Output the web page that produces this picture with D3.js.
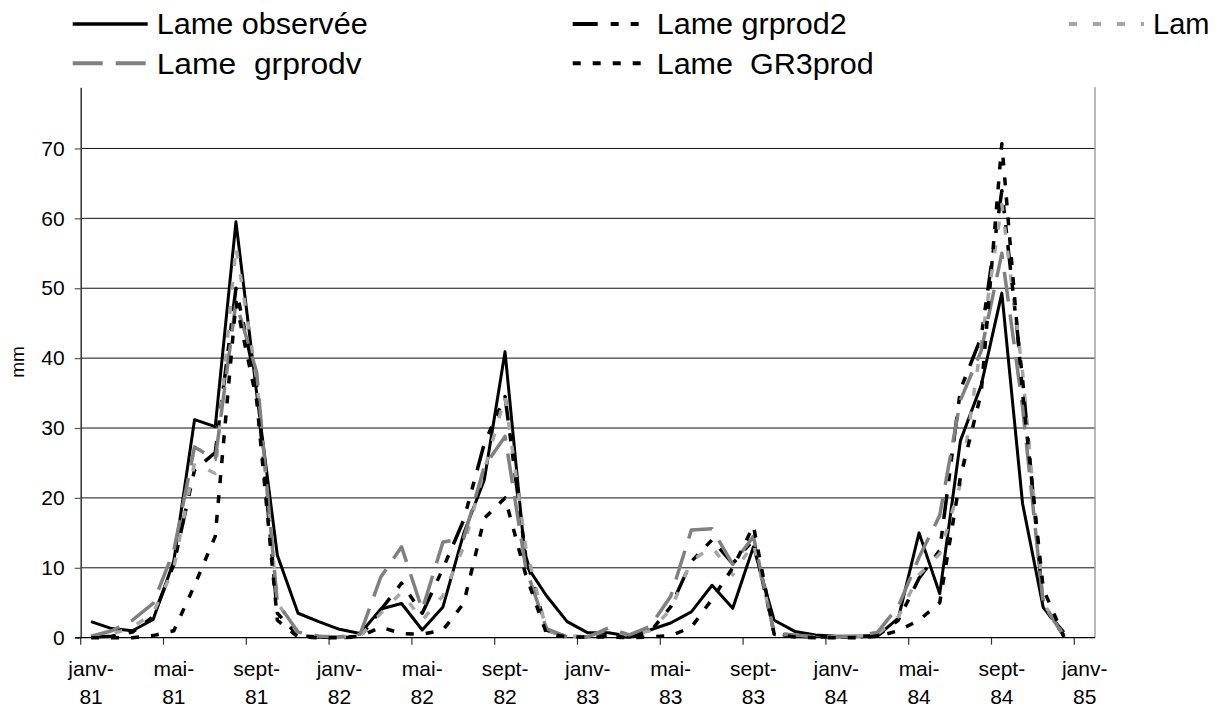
<!DOCTYPE html>
<html><head><meta charset="utf-8">
<script src="https://cdn.jsdelivr.net/npm/d3@7/dist/d3.min.js"></script>
<style>
html,body{margin:0;padding:0;background:#fff;overflow:hidden}
text{font-family:"Liberation Sans",Arial,sans-serif;fill:#000}
</style></head><body>
<svg id="c" width="1215" height="711"></svg>
<script>
// ---- data ----
const startMonth = new Date(1981, 0, 1);
const endMonth = new Date(1985, 1, 1);          // axis spans janv-81 .. janv-85 (49 months)
const monthNames = ["janv-","févr-","mars-","avr-","mai-","juin-","juil-","août-","sept-","oct-","nov-","déc-"];
const tickEvery = 4;
const yTicks = [0,10,20,30,40,50,60,70];
const yMax = 78.75;

const lameObservee = [2.3,1.3,1.0,2.6,11.0,31.2,30.2,59.5,35.0,11.8,3.5,2.3,
  1.2,0.6,4.1,4.9,1.1,4.4,14.9,22.6,40.9,10.5,6.0,2.3,
  0.7,0.7,0.2,1.1,2.1,3.7,7.5,4.2,13.0,2.5,0.9,0.4,
  0.2,0.2,0.3,2.8,15.0,6.3,28.2,36.1,49.3,19.2,4.3,0.8];
const lameGrprod2 = [0.1,0.2,0.8,3.0,10.5,24.0,26.5,50.0,36.0,3.5,0.3,0.1,
  0.0,0.1,4.0,7.8,3.5,9.9,16.8,27.8,34.5,11.6,1.1,0.1,
  0.1,0.3,0.1,0.8,4.4,10.9,14.0,10.6,14.0,0.6,0.2,0.1,
  0.1,0.1,0.3,2.5,8.5,12.5,35.5,43.0,64.0,37.0,4.5,0.3];
const lameGrprod3 = [0.1,0.5,1.5,3.5,10.0,25.0,23.5,56.0,37.0,5.0,0.6,0.2,
  0.1,0.2,3.5,6.5,2.5,6.0,13.0,24.0,34.5,13.0,1.0,0.2,
  0.2,1.2,0.3,1.0,4.0,11.0,13.0,9.0,13.5,0.8,0.3,0.1,
  0.1,0.2,0.5,3.0,9.0,12.0,22.0,42.0,62.0,38.0,5.0,0.3];
const lameGrprodv = [0.2,1.0,2.5,4.9,12.5,27.3,25.5,48.0,38.0,5.0,0.8,0.2,
  0.1,0.5,8.7,13.0,4.0,13.7,14.2,24.5,28.8,10.0,1.3,0.1,
  0.1,1.4,0.4,1.6,5.9,15.4,15.6,10.5,14.5,0.6,0.4,0.1,
  0.1,0.2,0.8,4.5,11.5,17.5,34.0,41.0,55.0,33.0,4.8,0.2];
const lameGR3prod = [0,0,0,0.3,1.0,7.5,14.5,48.0,34.0,2.5,0.1,0,
  0,0.2,1.5,0.6,0.5,1.1,4.9,17.1,20.0,9.0,0.6,0.1,
  0.1,0.1,0,0.1,0.3,1.5,5.5,10.0,16.0,0.5,0.1,0,
  0,0,0.2,1.0,2.5,5.0,23.0,35.0,70.7,35.0,7.0,0.1];

// the third legend entry is cut at the picture's edge in the reference: only "Lam" shows
const seriesNames = ["Lame observée","Lame grprod2","Lam","Lame  grprodv","Lame  GR3prod"];
const seriesValues = [lameObservee, lameGrprod2, lameGrprod3, lameGrprodv, lameGR3prod];
const seriesColors = ["#000000","#000000","#a6a6a6","#808080","#000000"];
const seriesDash = [null,"25,13,8,12,8,12","8,16","30,13","8,12"];
const seriesWidth = [3,3.5,3.5,3.5,3.5];
const legendTextLen = [211,190,null,205,217];

// ---- layout ----
const svg = d3.select("#c");
const months = d3.timeMonth.range(startMonth, endMonth);
const x = d3.scaleBand().domain(months.map(d=>+d)).range([80.7,1095]).padding(0);
const y = d3.scaleLinear().domain([0,yMax]).range([637.7,87.3]);
const xc = i => x(+months[i]) + x.bandwidth()/2;

// gridlines
svg.append("g").selectAll("line").data(yTicks.filter(v=>v>0)).join("line")
  .attr("x1",x.range()[0]).attr("x2",x.range()[1])
  .attr("y1",d=>y(d)).attr("y2",d=>y(d))
  .attr("stroke","#111").attr("stroke-width",1);

// right border
svg.append("line").attr("x1",1095).attr("x2",1095).attr("y1",y(yMax)).attr("y2",y(0))
  .attr("stroke","#a0a0a0").attr("stroke-width",1.5);

// y axis
const ya = svg.append("g").attr("transform","translate(80.7,0)")
  .call(d3.axisLeft(y).tickValues(yTicks).tickSize(6).tickSizeOuter(0).tickPadding(10));
ya.select(".domain").attr("stroke","#333").attr("stroke-width",1.5);
ya.selectAll(".tick line").attr("stroke","#555").attr("stroke-width",1.2);
ya.selectAll(".tick text").attr("font-size",21).attr("font-family","Liberation Sans, Arial, sans-serif").attr("fill","#000");

svg.append("text").attr("transform","translate(24,362) rotate(-90)")
  .attr("text-anchor","middle").attr("font-size",19).text("mm");

// x axis
const tickIdx = d3.range(0, months.length, tickEvery);
svg.append("line").attr("x1",75).attr("x2",1095).attr("y1",y(0)).attr("y2",y(0))
  .attr("stroke","#000").attr("stroke-width",1.3);
svg.append("g").selectAll("line").data(tickIdx).join("line")
  .attr("x1",i=>x(+months[i])).attr("x2",i=>x(+months[i]))
  .attr("y1",y(0)).attr("y2",y(0)+7).attr("stroke","#333").attr("stroke-width",1.2);
const xl = svg.append("g").selectAll("g").data(tickIdx).join("g")
  .attr("transform",i=>`translate(${xc(i)},0)`);
xl.append("text").attr("y",676).attr("text-anchor","middle").attr("font-size",21)
  .text(i=>monthNames[months[i].getMonth()]);
xl.append("text").attr("y",704).attr("text-anchor","middle").attr("font-size",21)
  .text(i=>String(months[i].getFullYear()).slice(2));

// lines
const line = d3.line().x((d,i)=>xc(i)).y(d=>y(d));
seriesValues.forEach((vals,k)=>{
  svg.append("path").datum(vals).attr("d",line)
    .attr("fill","none").attr("stroke",seriesColors[k])
    .attr("stroke-width",seriesWidth[k])
    .attr("stroke-dasharray",seriesDash[k])
    .attr("stroke-linejoin","round");
});

// legend
const legPos = [[72.7,24,34.3],[572.7,24,34.3],[1069,24,34.3],[72.7,63.3,74],[572.7,63.3,74]];
seriesNames.forEach((name,k)=>{
  const [lx,ly,tb] = legPos[k];
  svg.append("line").attr("x1",lx).attr("x2",lx+75).attr("y1",ly).attr("y2",ly)
    .attr("stroke",seriesColors[k]).attr("stroke-width",k===0?3.3:4)
    .attr("stroke-dasharray",seriesDash[k]);
  const t = svg.append("text").attr("x",lx+84).attr("y",tb).attr("font-size",29)
    .attr("xml:space","preserve").style("white-space","pre").text(name);
  if (legendTextLen[k]) t.attr("textLength",legendTextLen[k]).attr("lengthAdjust","spacingAndGlyphs");
});
</script>
</body></html>
